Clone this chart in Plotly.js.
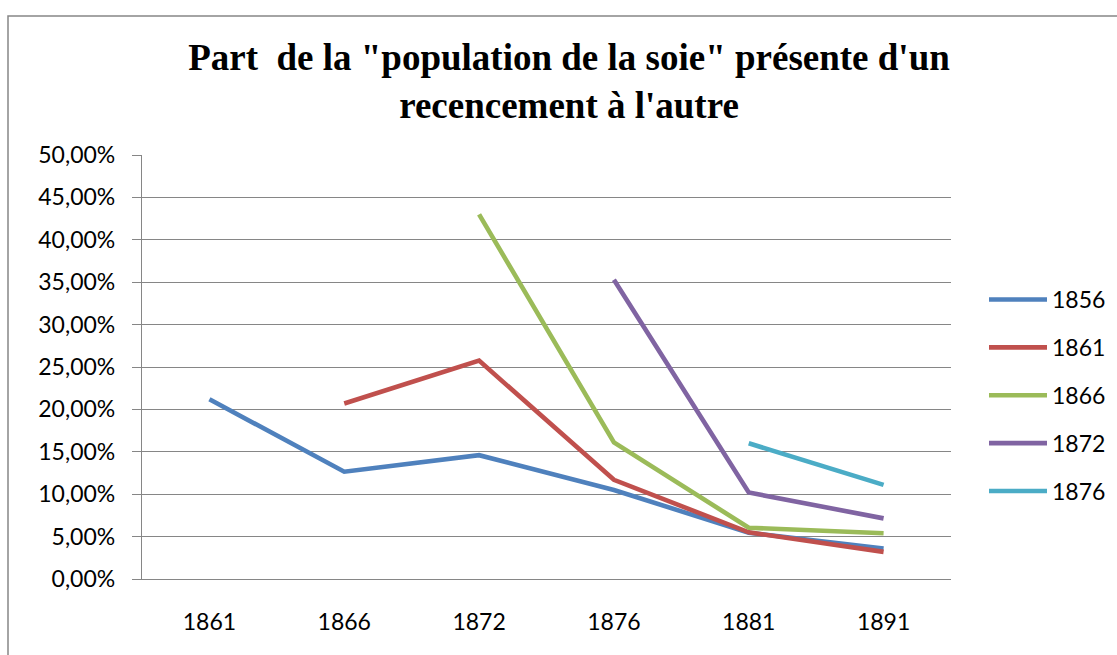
<!DOCTYPE html>
<html>
<head>
<meta charset="utf-8">
<script src="https://cdn.plot.ly/plotly-3.0.1.min.js"></script>
<style>html,body{margin:0;padding:0;background:#fff;}#chart{width:1117px;height:655px;}</style>
</head>
<body>
<div id="chart"></div>
<script>
const categories = ["1861", "1866", "1872", "1876", "1881", "1891"];
const seriesNames = ["1856", "1861", "1866", "1872", "1876"];
const s1856 = [0.212, 0.1265, 0.146, 0.105, 0.0546, 0.036];
const s1861 = [null, 0.207, 0.2575, 0.117, 0.055, 0.032];
const s1866 = [null, null, 0.430, 0.161, 0.0605, 0.054];
const s1872 = [null, null, null, 0.353, 0.102, 0.0715];
const s1876 = [null, null, null, null, 0.160, 0.111];
const yTickVals = [0, 0.05, 0.10, 0.15, 0.20, 0.25, 0.30, 0.35, 0.40, 0.45, 0.50];
const colors = ["#4F81BD", "#C0504D", "#9BBB59", "#8064A2", "#4BACC6"];
const seriesValues = [s1856, s1861, s1866, s1872, s1876];

const traces = seriesValues.map((vals, i) => ({
  type: "scatter",
  mode: "lines",
  x: categories,
  y: vals,
  name: seriesNames[i],
  legendgroup: "g" + i,
  line: {color: colors[i], width: 4.6},
  hoverinfo: "x+y+name"
}));

const L = 142, R = 951, T = 155, B = 579, W = 1117, H = 655;
const pw = R - L, ph = B - T;
const px = v => (v - L) / pw;
const py = v => (B - v) / ph;

const layout = {
  width: W, height: H,
  margin: {l: L, r: W - R, t: T, b: H - B, pad: 0, autoexpand: false},
  paper_bgcolor: "#ffffff",
  plot_bgcolor: "#ffffff",
  separators: ", ",
  showlegend: true,
  title: {
    text: "Part\u00a0 de la \"population de la soie\" présente d'un<br>recencement à l'autre",
    font: {family: "Liberation Serif, Times New Roman, serif", size: 37, color: "#000000", weight: "bold"},
    x: 569 / W, xanchor: "center",
    y: 1 - 70 / H, yanchor: "top",
    xref: "container", yref: "container"
  },
  xaxis: {
    type: "category",
    range: [-0.5, 5.5],
    showgrid: false,
    showline: true,
    linecolor: "#868686",
    linewidth: 1.3,
    ticks: "",
    ticklabelstandoff: 22,
    tickfont: {family: "Lato, sans-serif", size: 23, color: "#000000"},
    zeroline: false,
    fixedrange: true
  },
  yaxis: {
    range: [0, 0.5],
    tickvals: yTickVals,
    tickformat: ".2%",
    showgrid: true,
    gridcolor: "#868686",
    gridwidth: 1.3,
    showline: true,
    linecolor: "#868686",
    linewidth: 1.3,
    ticks: "outside",
    ticklen: 9,
    tickwidth: 1.3,
    tickcolor: "#868686",
    ticklabelstandoff: 12,
    tickfont: {family: "Lato, sans-serif", size: 23, color: "#000000"},
    zeroline: false,
    fixedrange: true
  },
  legend: {
    x: px(984), xanchor: "left",
    y: py(278), yanchor: "top",
    traceorder: "grouped",
    tracegroupgap: 15,
    itemwidth: 58,
    font: {family: "Lato, sans-serif", size: 23, color: "#000000"},
    bgcolor: "rgba(0,0,0,0)",
    borderwidth: 0
  },
  shapes: [{
    type: "rect", xref: "paper", yref: "paper",
    x0: px(8), x1: px(1125), y0: py(670), y1: py(16),
    line: {color: "#868686", width: 1.5},
    fillcolor: "rgba(0,0,0,0)",
    layer: "below"
  }]
};

Plotly.newPlot("chart", traces, layout, {displayModeBar: false, staticPlot: false});
</script>
</body>
</html>
